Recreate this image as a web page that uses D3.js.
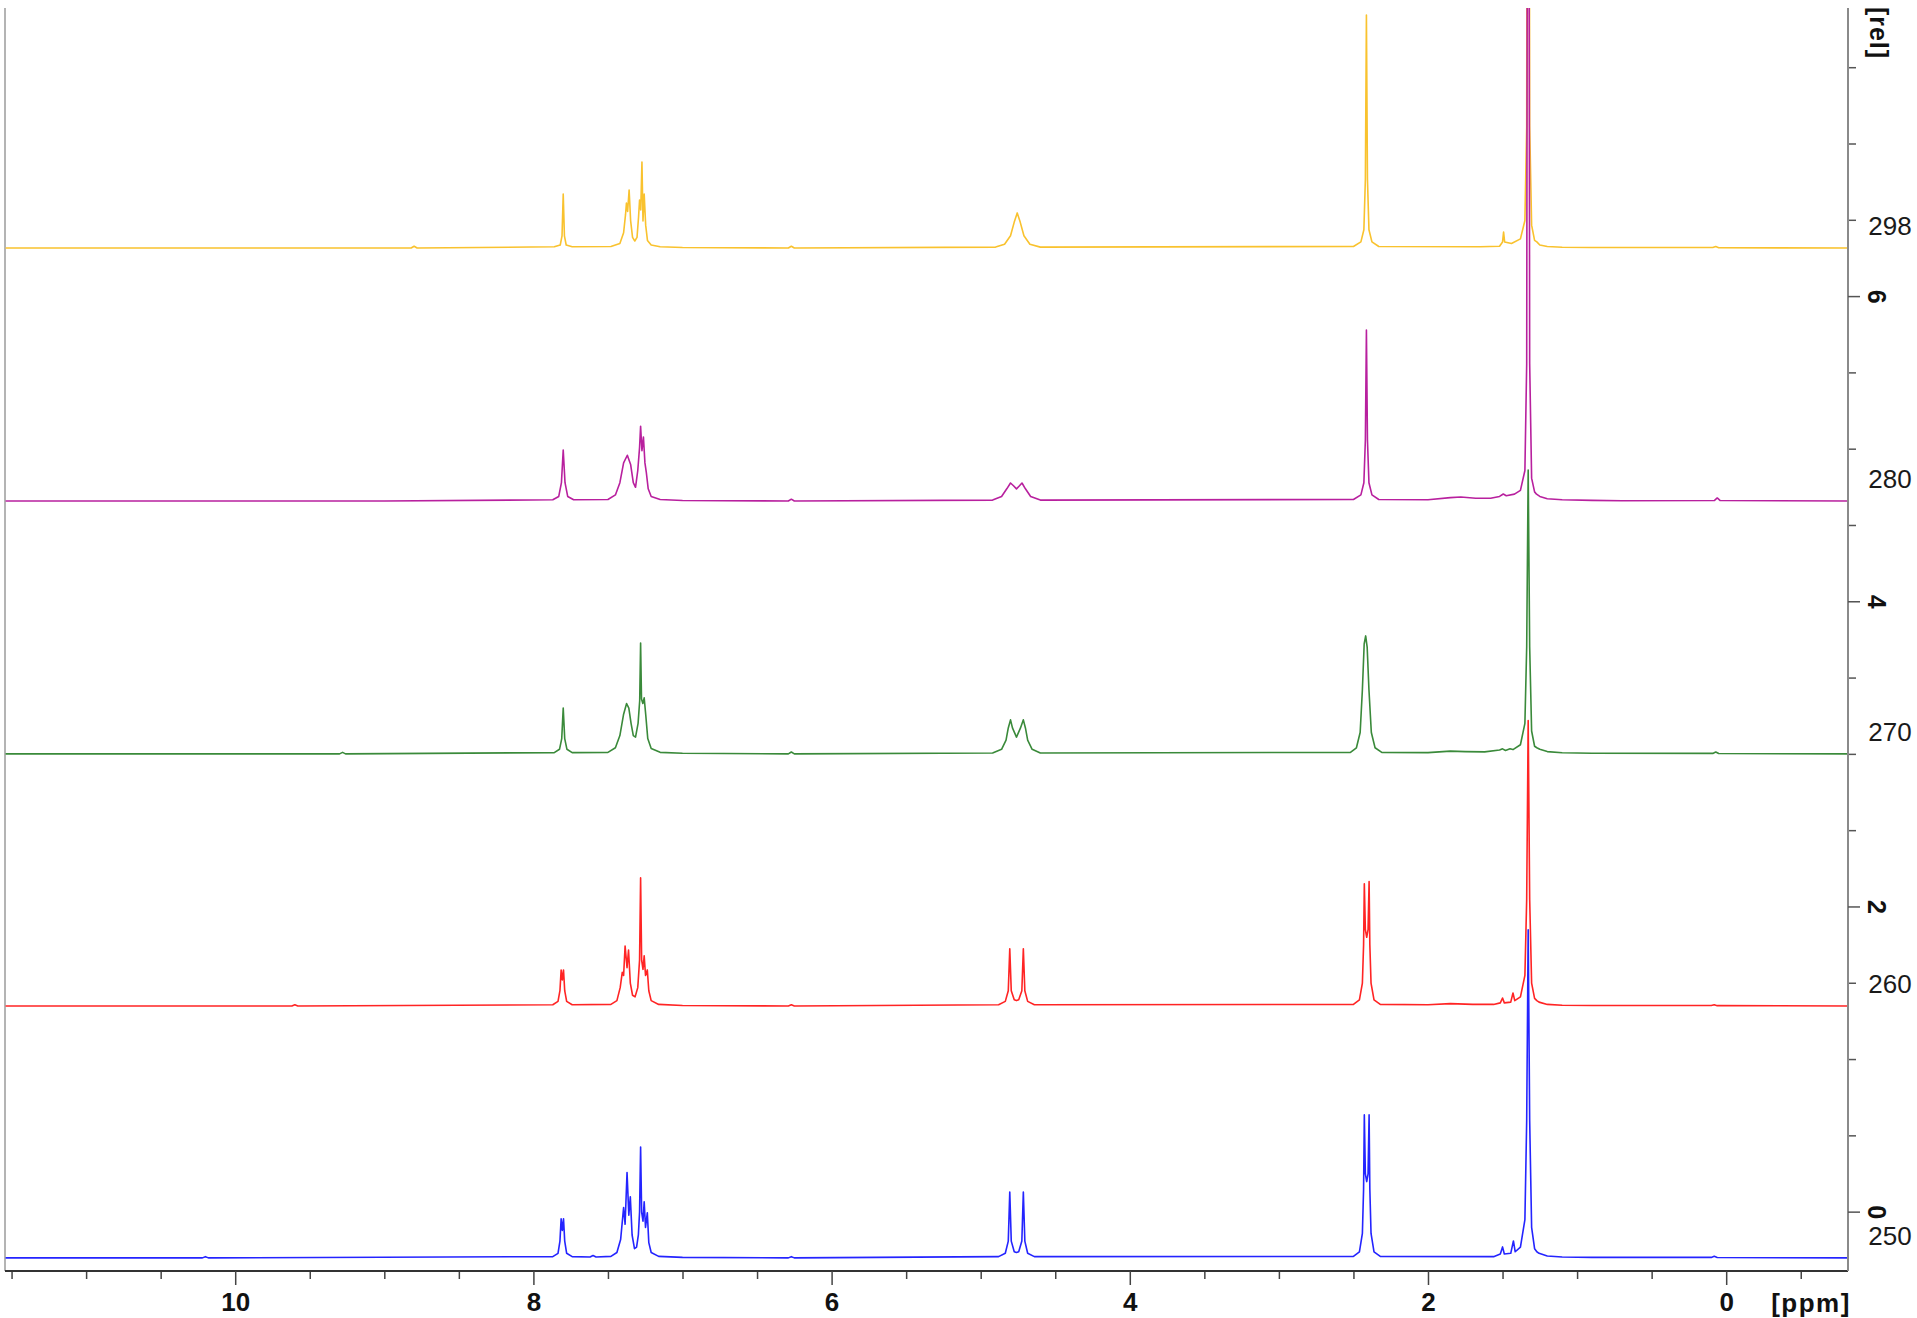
<!DOCTYPE html>
<html><head><meta charset="utf-8">
<script src="https://cdn.jsdelivr.net/npm/d3@7"></script>
<style>body{margin:0;background:#fff}svg{display:block}</style>
</head><body>
<svg id="c" width="1917" height="1318"></svg>
<script>
// ---- data ----
const temps = ["298", "280", "270", "260", "250"];
const colors = ["#F9C22E", "#B8209E", "#3A8A3A", "#FF2424", "#2424FF"];
const offsets = [6.315, 4.657, 3.0, 1.348, -0.303];
const xMajorTicks = [10, 8, 6, 4, 2, 0];
const xMinorTicks = [11.5, 11, 10.5, 9.5, 9, 8.5, 7.5, 7, 6.5, 5.5, 5, 4.5, 3.5, 3, 2.5, 1.5, 1, 0.5, -0.5];
const yMajorTicks = [0, 2, 4, 6];
const yMinorTicks = [0.5, 1, 1.5, 2.5, 3, 3.5, 4.5, 5, 5.5, 6.5, 7, 7.5];

const s298 = [[11.54,0],[8.82,0],[8.80,0.012],[8.78,0],
[7.86,0.008],[7.82,0.02],[7.808,0.08],[7.80,0.354],[7.792,0.08],[7.78,0.02],[7.74,0.008],
[7.48,0.01],[7.42,0.03],[7.395,0.1],[7.382,0.22],[7.376,0.295],[7.368,0.24],[7.358,0.38],[7.348,0.18],[7.335,0.07],[7.32,0.046],[7.305,0.07],[7.295,0.2],[7.288,0.315],[7.28,0.25],[7.272,0.564],[7.265,0.177],[7.257,0.354],[7.247,0.15],[7.235,0.05],[7.21,0.02],[7.15,0.008],[7.0,0.003],
[6.29,0],[6.27,0.012],[6.25,0],
[4.90,0.006],[4.84,0.025],[4.80,0.08],[4.775,0.17],[4.755,0.23],[4.735,0.17],[4.71,0.08],[4.67,0.025],[4.6,0.006],
[2.50,0.01],[2.45,0.04],[2.43,0.12],[2.42,0.45],[2.413,1.527],[2.406,0.45],[2.396,0.12],[2.376,0.04],[2.33,0.01],
[1.65,0.008],[1.52,0.012],[1.50,0.04],[1.493,0.105],[1.486,0.04],[1.44,0.03],[1.38,0.06],[1.35,0.18],[1.338,0.8],[1.328,8],[1.318,0.8],[1.305,0.15],[1.285,0.05],[1.27,0.04],[1.25,0.02],[1.2,0.01],[1.1,0.005],[0.9,0.003],
[0.09,0.003],[0.07,0.01],[0.05,0.002],[-0.817,0]];

const s280 = [[11.54,0],[9.0,0],
[7.87,0.008],[7.83,0.03],[7.812,0.12],[7.80,0.334],[7.788,0.12],[7.77,0.03],[7.73,0.008],
[7.50,0.01],[7.45,0.04],[7.42,0.12],[7.395,0.25],[7.37,0.30],[7.348,0.24],[7.33,0.12],[7.315,0.09],[7.30,0.2],[7.288,0.35],[7.281,0.49],[7.272,0.33],[7.262,0.42],[7.252,0.25],[7.243,0.19],[7.23,0.08],[7.21,0.03],[7.15,0.01],[7.0,0.003],
[6.29,0],[6.27,0.012],[6.25,0],
[4.92,0.006],[4.86,0.03],[4.825,0.08],[4.80,0.118],[4.78,0.1],[4.76,0.08],[4.74,0.1],[4.723,0.118],[4.70,0.08],[4.665,0.03],[4.6,0.006],
[2.50,0.01],[2.45,0.04],[2.43,0.12],[2.42,0.4],[2.413,1.12],[2.406,0.4],[2.396,0.12],[2.376,0.04],[2.33,0.01],
[2.0,0.008],[1.85,0.022],[1.78,0.026],[1.68,0.018],[1.58,0.018],[1.52,0.03],[1.495,0.046],[1.475,0.035],[1.42,0.045],[1.38,0.07],[1.35,0.2],[1.338,0.9],[1.328,8],[1.318,0.9],[1.305,0.15],[1.285,0.06],[1.272,0.045],[1.25,0.03],[1.2,0.015],[1.1,0.008],[0.9,0.004],[0.7,0.002],
[0.08,0.003],[0.06,0.02],[0.04,0.003],[-0.817,0]];

const s270 = [[11.54,0],[9.3,0],[9.28,0.01],[9.26,0],
[7.86,0.008],[7.825,0.03],[7.81,0.1],[7.80,0.30],[7.79,0.1],[7.775,0.03],[7.74,0.008],
[7.50,0.01],[7.45,0.04],[7.42,0.12],[7.395,0.26],[7.375,0.33],[7.36,0.30],[7.345,0.2],[7.33,0.12],[7.315,0.11],[7.298,0.2],[7.287,0.35],[7.281,0.727],[7.275,0.36],[7.266,0.33],[7.257,0.367],[7.246,0.25],[7.233,0.1],[7.21,0.035],[7.15,0.01],[7.0,0.004],
[6.29,0],[6.27,0.012],[6.25,0],
[4.92,0.006],[4.86,0.03],[4.83,0.09],[4.815,0.17],[4.80,0.223],[4.787,0.17],[4.76,0.11],[4.733,0.17],[4.714,0.223],[4.70,0.17],[4.685,0.09],[4.655,0.03],[4.6,0.006],
[2.52,0.01],[2.48,0.04],[2.455,0.14],[2.44,0.42],[2.428,0.72],[2.418,0.773],[2.408,0.7],[2.396,0.42],[2.38,0.14],[2.355,0.04],[2.31,0.01],
[2.0,0.008],[1.85,0.018],[1.75,0.015],[1.62,0.013],[1.52,0.025],[1.50,0.033],[1.48,0.022],[1.45,0.033],[1.43,0.028],[1.38,0.06],[1.35,0.2],[1.338,0.7],[1.328,1.86],[1.318,0.7],[1.305,0.15],[1.285,0.05],[1.27,0.04],[1.25,0.03],[1.2,0.015],[1.1,0.007],[0.9,0.004],
[0.09,0.003],[0.07,0.012],[0.05,0.002],[-0.817,0]];

const s260 = [[11.54,0],[9.62,0],[9.60,0.008],[9.58,0],
[7.87,0.008],[7.835,0.03],[7.822,0.1],[7.814,0.236],[7.806,0.17],[7.798,0.236],[7.79,0.1],[7.777,0.03],[7.74,0.008],
[7.48,0.01],[7.44,0.035],[7.418,0.12],[7.404,0.22],[7.395,0.2],[7.385,0.393],[7.372,0.25],[7.362,0.367],[7.35,0.15],[7.335,0.07],[7.318,0.06],[7.30,0.12],[7.288,0.3],[7.281,0.839],[7.274,0.3],[7.265,0.24],[7.257,0.328],[7.248,0.2],[7.236,0.236],[7.226,0.1],[7.21,0.035],[7.16,0.01],[7.0,0.003],
[6.29,0],[6.27,0.008],[6.25,0],
[4.88,0.008],[4.835,0.03],[4.815,0.1],[4.805,0.374],[4.795,0.1],[4.775,0.04],[4.76,0.035],[4.745,0.04],[4.724,0.1],[4.714,0.374],[4.704,0.1],[4.685,0.03],[4.64,0.008],
[2.50,0.01],[2.46,0.04],[2.44,0.15],[2.432,0.4],[2.427,0.80],[2.42,0.5],[2.411,0.45],[2.402,0.5],[2.395,0.816],[2.39,0.4],[2.382,0.15],[2.362,0.04],[2.32,0.01],
[2.0,0.008],[1.85,0.015],[1.7,0.01],[1.56,0.01],[1.515,0.02],[1.50,0.052],[1.488,0.02],[1.445,0.025],[1.43,0.085],[1.418,0.035],[1.38,0.06],[1.35,0.2],[1.338,0.7],[1.328,1.87],[1.318,0.7],[1.305,0.15],[1.285,0.05],[1.27,0.035],[1.255,0.025],[1.2,0.01],[1.1,0.005],[0.9,0.003],
[0.1,0.003],[0.08,0.008],[0.06,0.002],[-0.817,0]];

const s250 = [[11.54,0],[10.22,0],[10.20,0.008],[10.18,0],
[7.87,0.008],[7.835,0.03],[7.822,0.11],[7.814,0.256],[7.806,0.18],[7.798,0.256],[7.79,0.11],[7.777,0.03],[7.74,0.008],[7.62,0.006],[7.60,0.016],[7.58,0.006],
[7.48,0.01],[7.44,0.035],[7.415,0.12],[7.395,0.33],[7.385,0.22],[7.372,0.56],[7.36,0.28],[7.35,0.40],[7.338,0.15],[7.322,0.06],[7.308,0.07],[7.296,0.15],[7.288,0.3],[7.281,0.727],[7.274,0.3],[7.265,0.24],[7.257,0.367],[7.248,0.2],[7.236,0.295],[7.226,0.1],[7.21,0.035],[7.16,0.01],[7.0,0.003],
[6.29,0],[6.27,0.008],[6.25,0],
[4.88,0.008],[4.835,0.03],[4.815,0.11],[4.805,0.432],[4.795,0.11],[4.775,0.04],[4.76,0.035],[4.745,0.04],[4.724,0.11],[4.714,0.432],[4.704,0.11],[4.685,0.03],[4.64,0.008],
[2.50,0.01],[2.46,0.04],[2.44,0.16],[2.432,0.45],[2.427,0.937],[2.42,0.55],[2.411,0.5],[2.402,0.55],[2.395,0.937],[2.39,0.45],[2.382,0.16],[2.362,0.04],[2.32,0.01],
[1.56,0.008],[1.515,0.025],[1.50,0.072],[1.488,0.025],[1.445,0.03],[1.427,0.111],[1.415,0.04],[1.38,0.07],[1.35,0.25],[1.338,0.9],[1.328,2.15],[1.318,0.9],[1.305,0.2],[1.285,0.06],[1.27,0.04],[1.255,0.03],[1.2,0.012],[1.1,0.006],[0.9,0.003],
[0.1,0.003],[0.08,0.01],[0.06,0.002],[-0.817,0]];

const spectra = [s298, s280, s270, s260, s250];

// ---- layout ----
const L = 5, R = 1848, T = 8, B = 1271;
const svg = d3.select("#c");
const x = d3.scaleLinear().domain([11.544, -0.817]).range([L, R]);
const y = d3.scaleLinear().domain([-0.389, 7.888]).range([B, T]);

svg.append("defs").append("clipPath").attr("id", "clip")
  .append("rect").attr("x", L).attr("y", T).attr("width", R - L).attr("height", B - T);

// left border
svg.append("line").attr("x1", L).attr("x2", L).attr("y1", T).attr("y2", B)
  .attr("stroke", "#b4b4b4").attr("stroke-width", 2);

// spectra
const gSpec = svg.append("g").attr("clip-path", "url(#clip)");
spectra.forEach((s, i) => {
  const line = d3.line().x(d => x(d[0])).y(d => y(d[1] + offsets[i]));
  gSpec.append("path").attr("d", line(s)).attr("fill", "none")
    .attr("stroke", colors[i]).attr("stroke-width", 1.6).attr("stroke-linejoin", "round");
});

// fonts
const fontMain = "'Liberation Sans', Arial, Helvetica, sans-serif";
const fontAxis = "'Liberation Sans Narrow', 'Arial Narrow', 'Liberation Sans', Arial, sans-serif";

// x axis
const gxMinor = svg.append("g").attr("transform", `translate(0,${B})`)
  .call(d3.axisBottom(x).tickValues(xMinorTicks).tickSize(8).tickFormat(""));
gxMinor.select(".domain").remove();
gxMinor.selectAll("line").attr("stroke", "#444").attr("stroke-width", 1.5);
const gx = svg.append("g").attr("transform", `translate(0,${B})`)
  .call(d3.axisBottom(x).tickValues(xMajorTicks).tickSize(14).tickSizeOuter(0).tickPadding(8).tickFormat(d3.format("d")));
gx.select(".domain").attr("stroke", "#333").attr("stroke-width", 2).attr("d", `M${L},0H${R}`);
gx.selectAll("line").attr("stroke", "#444").attr("stroke-width", 1.5);
gx.selectAll("text").attr("font-family", fontAxis).attr("font-weight", "bold")
  .attr("font-size", 26).attr("fill", "#111");

svg.append("text").attr("x", 1811).attr("y", 1303).attr("text-anchor", "middle")
  .attr("dominant-baseline", "central").attr("font-family", fontAxis).attr("font-weight", "bold")
  .attr("font-size", 26).attr("letter-spacing", 1.5).attr("fill", "#111").text("[ppm]");

// right axis
const gyMinor = svg.append("g").attr("transform", `translate(${R},0)`)
  .call(d3.axisRight(y).tickValues(yMinorTicks).tickSize(8).tickFormat(""));
gyMinor.select(".domain").remove();
gyMinor.selectAll("line").attr("stroke", "#555").attr("stroke-width", 1.5);
const gy = svg.append("g").attr("transform", `translate(${R},0)`)
  .call(d3.axisRight(y).tickValues(yMajorTicks).tickSize(12).tickSizeOuter(0).tickFormat(""));
gy.select(".domain").attr("stroke", "#8a8a8a").attr("stroke-width", 2).attr("d", `M0,${T}V${B}`);
gy.selectAll("line").attr("stroke", "#555").attr("stroke-width", 1.5);
gy.selectAll(".tick").append("text")
  .attr("transform", "translate(29,0) rotate(90)")
  .attr("text-anchor", "middle").attr("dominant-baseline", "central")
  .attr("font-family", fontAxis).attr("font-weight", "bold").attr("font-size", 25)
  .attr("fill", "#111").text(d => d);

svg.append("text").attr("transform", `translate(1879,33) rotate(90)`)
  .attr("text-anchor", "middle").attr("dominant-baseline", "central")
  .attr("font-family", fontAxis).attr("font-weight", "bold").attr("font-size", 25)
  .attr("letter-spacing", 1).attr("fill", "#111").text("[rel]");

// temperature labels
temps.forEach((t, i) => {
  svg.append("text").attr("x", 1890).attr("y", y(offsets[i]) - 22)
    .attr("text-anchor", "middle").attr("dominant-baseline", "central")
    .attr("font-family", fontMain).attr("font-size", 26).attr("fill", "#1a1a1a").text(t);
});
</script>
</body></html>
